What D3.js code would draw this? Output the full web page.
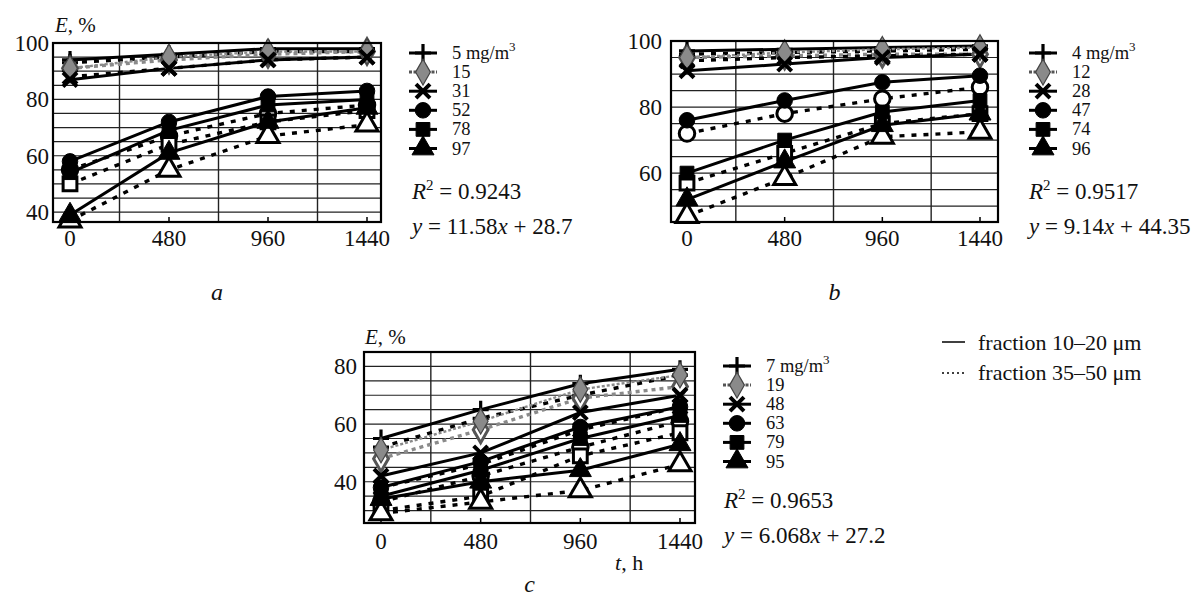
<!DOCTYPE html>
<html>
<head>
<meta charset="utf-8">
<script src="https://cdn.jsdelivr.net/npm/d3@7"></script>
<style>
  body { margin: 0; background: #fff; }
  svg text { font-family: "Liberation Serif", "Times New Roman", serif; fill: #111; }
</style>
</head>
<body>
<svg id="chart" width="1200" height="600"></svg>
<script>

// time axis (h)
var xTicks = [0, 480, 960, 1440];

// panel a - concentrations and efficiency E, %
var concA = ["5", "15", "31", "52", "78", "97"];
var fineA = [[94, 96, 98, 98], [91, 95, 97, 97], [87, 91, 94, 95], [58, 72, 81, 83], [54, 69, 78, 80], [39, 61, 72, 77]];
var coarseA = [[93, 95, 97, 97], [91, 94, 96, 97], [88, 91, 94, 95], [55, 67, 75, 78], [50, 64, 72, 76], [37, 55, 67, 71]];

// panel b
var concB = ["4", "12", "28", "47", "74", "96"];
var fineB = [[97, 97.5, 98, 98.5], [95, 96.5, 97.5, 98], [91, 93, 95, 96], [76, 82, 87.5, 89.5], [60, 70, 78.5, 82], [52, 63.5, 74.5, 78]];
var coarseB = [[96, 96.5, 97, 97.5], [95, 95.5, 96, 96], [94, 95, 95.5, 96], [72, 78, 82.5, 86], [57, 66, 75, 78], [47, 58.5, 71, 72.5]];

// panel c
var concC = ["7", "19", "48", "63", "79", "95"];
var fineC = [[55, 65, 74, 79], [51, 61, 72, 77], [42, 50, 64, 70], [38, 47, 59, 66], [35, 44, 55, 63], [34, 40, 44, 53]];
var coarseC = [[52, 62, 70, 77], [48, 58, 69, 73], [38, 46, 58, 66], [33, 42, 52, 61], [30, 35, 49, 57], [29, 33, 37, 46]];

// regression labels
var r2Labels = ["0.9243", "0.9517", "0.9653"];
var eqLabels = [["11.58", "28.7"], ["9.14", "44.35"], ["6.068", "27.2"]];

var svg = d3.select("#chart");

var shapes = ["plus", "diamond", "x", "circle", "square", "triangle"];

function shapePath(shape) {
    if (shape === "plus") return "M-8,0H8M0,-9V9";
    if (shape === "x") return "M-7,-7L7,7M-7,7L7,-7";
    if (shape === "diamond") return d3.symbol(d3.symbolDiamond, 190)();
    if (shape === "circle") return d3.symbol(d3.symbolCircle, 190)();
    if (shape === "square") return d3.symbol(d3.symbolSquare, 190)();
    return d3.symbol(d3.symbolTriangle, 210)();
}

function styleMarker(sel, shape, hollow) {
    if (shape === "plus" || shape === "x") {
        sel.attr("fill", "none").attr("stroke", "#000").attr("stroke-width", shape === "x" ? 4 : 3.2);
    } else if (shape === "diamond") {
        sel.attr("fill", hollow ? "#fff" : "#8a8a8a").attr("stroke", hollow ? "#555" : "#444").attr("stroke-width", hollow ? 3 : 1.2);
    } else {
        sel.attr("fill", hollow ? "#fff" : "#000").attr("stroke", "#000").attr("stroke-width", hollow ? 3 : 1);
    }
}

function drawPanel(cfg) {
    var g = svg.append("g");

    var x = d3.scaleLinear()
        .domain([0, 1440])
        .range([cfg.x0, cfg.x1]);
    var y = d3.scaleLinear()
        .domain(cfg.yDomain)
        .range([cfg.box.bottom, cfg.box.top]);

    // horizontal grid every 5 %
    var gridY = d3.range(Math.ceil(cfg.yDomain[0] / 5) * 5, cfg.yDomain[1] + 0.01, 5);
    g.selectAll(".hgrid").data(gridY).enter().append("line")
        .attr("x1", cfg.box.left).attr("x2", cfg.box.right)
        .attr("y1", function(d) { return y(d); })
        .attr("y2", function(d) { return y(d); })
        .attr("stroke", "#222").attr("stroke-width", 1.2);

    // vertical grid between time points
    g.selectAll(".vgrid").data([240, 720, 1200]).enter().append("line")
        .attr("x1", function(d) { return x(d); })
        .attr("x2", function(d) { return x(d); })
        .attr("y1", cfg.box.top).attr("y2", cfg.box.bottom)
        .attr("stroke", "#222").attr("stroke-width", 1.4);

    // tick marks
    g.selectAll(".xtick").data(xTicks).enter().append("line")
        .attr("x1", function(d) { return x(d); })
        .attr("x2", function(d) { return x(d); })
        .attr("y1", cfg.box.bottom).attr("y2", cfg.box.bottom - 5)
        .attr("stroke", "#000").attr("stroke-width", 1.5);

    var line = d3.line()
        .x(function(d, i) { return x(xTicks[i]); })
        .y(function(d) { return y(d); });

    // coarse fraction (dashed) first, fine (solid) over it
    [{data: cfg.coarse, hollow: true}, {data: cfg.fine, hollow: false}].forEach(function(set) {
        set.data.forEach(function(vals, si) {
            var grey = shapes[si] === "diamond";
            g.append("path")
                .attr("d", line(vals))
                .attr("fill", "none")
                .attr("stroke", grey ? "#8a8a8a" : "#000")
                .attr("stroke-width", set.hollow ? 3.4 : (grey ? 2.4 : 3))
                .attr("stroke-dasharray", set.hollow ? (grey ? "4,4" : "5,7") : (grey ? "3,2" : null));
        });
    });
    [{data: cfg.coarse, hollow: true}, {data: cfg.fine, hollow: false}].forEach(function(set) {
        set.data.forEach(function(vals, si) {
            var m = g.selectAll(null).data(vals).enter().append("path")
                .attr("d", shapePath(shapes[si]))
                .attr("transform", function(d, i) { return "translate(" + x(xTicks[i]) + "," + y(d) + ")"; });
            styleMarker(m, shapes[si], set.hollow);
        });
    });

    // frame
    g.append("rect")
        .attr("x", cfg.box.left).attr("y", cfg.box.top)
        .attr("width", cfg.box.right - cfg.box.left)
        .attr("height", cfg.box.bottom - cfg.box.top)
        .attr("fill", "none").attr("stroke", "#000").attr("stroke-width", 2.2);

    // tick labels
    g.selectAll(".xl").data(xTicks).enter().append("text")
        .attr("x", function(d) { return x(d); })
        .attr("y", cfg.xLabelY)
        .attr("text-anchor", "middle")
        .attr("font-size", 23)
        .text(function(d) { return d; });
    g.selectAll(".yl").data(cfg.yLabels).enter().append("text")
        .attr("x", cfg.box.left - cfg.yGap)
        .attr("y", function(d) { return y(d); })
        .attr("dy", "0.35em")
        .attr("text-anchor", "end")
        .attr("font-size", 23)
        .text(function(d) { return d; });

    if (cfg.yTitle) {
        var t = g.append("text").attr("x", cfg.yTitle[0]).attr("y", cfg.yTitle[1]).attr("font-size", 21);
        t.append("tspan").attr("font-style", "italic").text("E");
        t.append("tspan").text(", %");
    }

    // legend of concentrations
    cfg.conc.forEach(function(c, si) {
        var ly = cfg.legend.y + si * 19.1;
        g.append("line")
            .attr("x1", cfg.legend.x - 14).attr("x2", cfg.legend.x + 14)
            .attr("y1", ly).attr("y2", ly)
            .attr("stroke", shapes[si] === "diamond" ? "#555" : "#000")
            .attr("stroke-width", 3)
            .attr("stroke-dasharray", shapes[si] === "diamond" ? "3,1.5" : null);
        var mk = g.append("path").attr("d", shapePath(shapes[si]))
            .attr("transform", "translate(" + cfg.legend.x + "," + ly + ")");
        styleMarker(mk, shapes[si], false);
        var lt = g.append("text")
            .attr("x", cfg.legend.x + 29).attr("y", ly + 6)
            .attr("font-size", 18.5);
        if (si === 0) {
            lt.append("tspan").text(c + " mg/m");
            lt.append("tspan").attr("font-size", 13).attr("dy", -8).text("3");
        } else {
            lt.text(c);
        }
    });

    var r = g.append("text").attr("x", cfg.eq.x).attr("y", cfg.eq.y).attr("font-size", 23);
    r.append("tspan").attr("font-style", "italic").text("R");
    r.append("tspan").attr("font-size", 15).attr("dy", -9).text("2");
    r.append("tspan").attr("dy", 9).text(" = " + cfg.r2);

    var e = g.append("text").attr("x", cfg.eq.x).attr("y", cfg.eq.y + 35).attr("font-size", 23);
    e.append("tspan").attr("font-style", "italic").text("y");
    e.append("tspan").text(" = " + cfg.eqv[0]);
    e.append("tspan").attr("font-style", "italic").text("x");
    e.append("tspan").text(" + " + cfg.eqv[1]);

    g.append("text")
        .attr("x", (cfg.box.left + cfg.box.right) / 2)
        .attr("y", cfg.panelLabelY)
        .attr("text-anchor", "middle")
        .attr("font-size", 24)
        .attr("font-style", "italic")
        .text(cfg.panel);
}

drawPanel({
    panel: "a", box: {left: 53, right: 381, top: 43, bottom: 222},
    x0: 70, x1: 367, yDomain: [36.5, 100], yLabels: [40, 60, 80, 100], yGap: 4,
    xLabelY: 246, yTitle: [55, 32], panelLabelY: 300,
    conc: concA, fine: fineA, coarse: coarseA,
    legend: {x: 423, y: 53}, eq: {x: 412, y: 199}, r2: r2Labels[0], eqv: eqLabels[0]
});

drawPanel({
    panel: "b", box: {left: 671, right: 998, top: 41, bottom: 222},
    x0: 687, x1: 980, yDomain: [45.2, 100], yLabels: [60, 80, 100], yGap: 9,
    xLabelY: 246, yTitle: null, panelLabelY: 300,
    conc: concB, fine: fineB, coarse: coarseB,
    legend: {x: 1043, y: 53}, eq: {x: 1029, y: 199}, r2: r2Labels[1], eqv: eqLabels[1]
});

drawPanel({
    panel: "c", box: {left: 364, right: 695, top: 352, bottom: 523},
    x0: 381, x1: 680, yDomain: [25.7, 85], yLabels: [40, 60, 80], yGap: 7,
    xLabelY: 549, yTitle: [365, 344], panelLabelY: 592,
    conc: concC, fine: fineC, coarse: coarseC,
    legend: {x: 737, y: 366}, eq: {x: 724, y: 508}, r2: r2Labels[2], eqv: eqLabels[2]
});

// x-axis title for c
var th = svg.append("text").attr("x", 615).attr("y", 570).attr("font-size", 22);
th.append("tspan").attr("font-style", "italic").text("t");
th.append("tspan").text(", h");

// fraction legend
svg.append("line").attr("x1", 942).attr("x2", 965).attr("y1", 342).attr("y2", 342)
    .attr("stroke", "#000").attr("stroke-width", 1.5);
svg.append("text").attr("x", 978).attr("y", 350).attr("font-size", 22).text("fraction 10–20 μm");
svg.append("line").attr("x1", 942).attr("x2", 965).attr("y1", 373).attr("y2", 373)
    .attr("stroke", "#000").attr("stroke-width", 1.5).attr("stroke-dasharray", "2,3");
svg.append("text").attr("x", 978).attr("y", 380).attr("font-size", 22).text("fraction 35–50 μm");

</script>
</body>
</html>
